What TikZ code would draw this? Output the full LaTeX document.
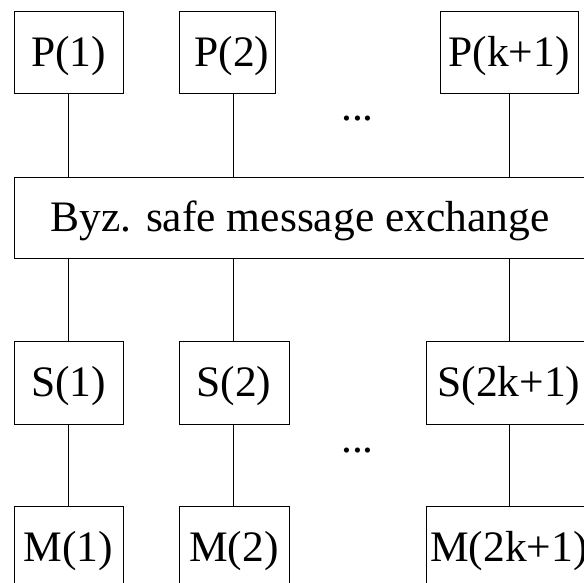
\documentclass[tikz,border=0pt]{standalone}
\usepackage{fontspec}
\setmainfont{Liberation Serif}
\begin{document}
\begin{tikzpicture}[x=1pt,y=-1pt,
  box/.style={draw, line width=0.8pt, inner sep=0pt, text height=28.8pt, text depth=0pt,
    font=\fontsize{43.5}{50}\selectfont},
  conn/.style={line width=0.8pt},
  dotsty/.style={inner sep=0pt, anchor=base, font=\fontsize{43.5}{50}\selectfont}]
\useasboundingbox (0,0) rectangle (584,582);
\clip (0,0) rectangle (584,582);
\node[box, minimum width=109pt, minimum height=82pt] (p1) at (68.5,52) {P(1)};
\node[box, minimum width=96pt, minimum height=82pt] (p2) at (227,52) {\hspace*{10pt}P(2)};
\node[box, minimum width=138pt, minimum height=82pt] (pk) at (509,52) {P(k+1)};
\node[dotsty] (d1) at (357.5,120) {...};
\node[box, minimum width=572pt, minimum height=81pt] (byz) at (300,217.5) {Byz. safe message exchange};
\node[box, minimum width=109pt, minimum height=83pt] (s1) at (68.5,382.5) {S(1)};
\node[box, minimum width=110pt, minimum height=83pt] (s2) at (234,382.5) {S(2)};
\node[box, minimum width=166pt, minimum height=83pt] (sk) at (509,382.5) {S(2k+1)};
\node[dotsty] (d2) at (357.5,452) {...};
\node[box, minimum width=109pt, minimum height=83pt] (m1) at (68.5,547.5) {M(1)};
\node[box, minimum width=110pt, minimum height=83pt] (m2) at (234,547.5) {M(2)};
\node[box, minimum width=166pt, minimum height=83pt] (mk) at (509,547.5) {M(2k+1)};
\draw[conn] (p1.south) -- (p1.south |- byz.north);
\draw[conn] ([xshift=6pt]p2.south) -- ([xshift=6pt]p2.south |- byz.north);
\draw[conn] (pk.south) -- (pk.south |- byz.north);
\draw[conn] (s1.north |- byz.south) -- (s1.north);
\draw[conn] ([xshift=-1pt]s2.north |- byz.south) -- ([xshift=-1pt]s2.north);
\draw[conn] (sk.north |- byz.south) -- (sk.north);
\draw[conn] (s1.south) -- (m1.north);
\draw[conn] ([xshift=-1pt]s2.south) -- ([xshift=-1pt]m2.north);
\draw[conn] (sk.south) -- (mk.north);
\end{tikzpicture}
\end{document}
